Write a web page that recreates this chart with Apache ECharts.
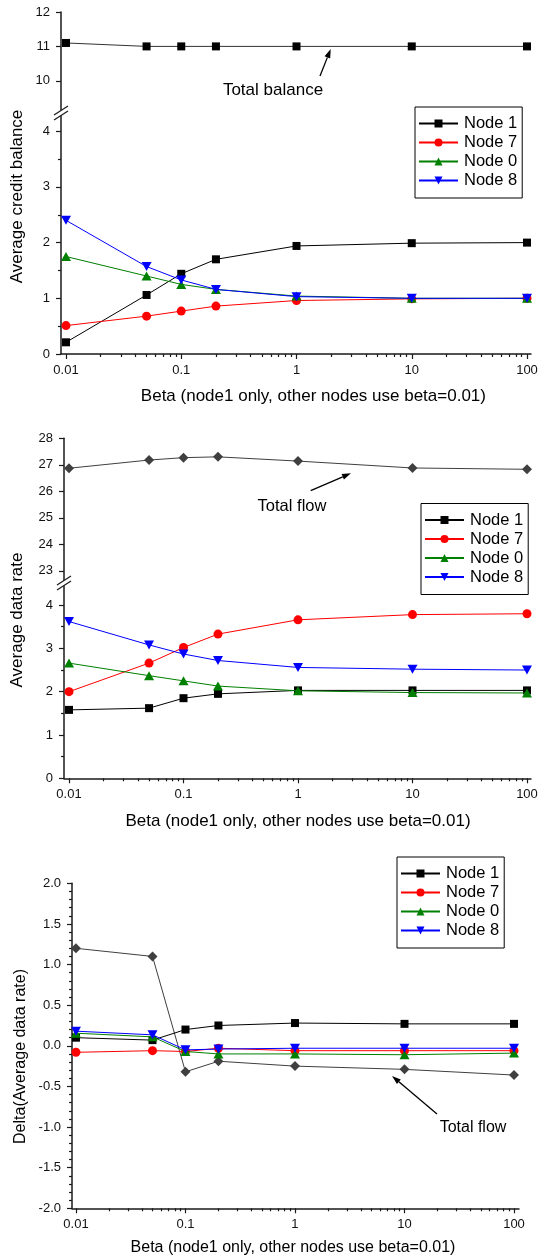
<!DOCTYPE html>
<html>
<head>
<meta charset="utf-8">
<script src="https://cdn.jsdelivr.net/npm/echarts@6/dist/echarts.min.js"></script>
<style>
  html, body { margin: 0; padding: 0; background: #fff; }
  #chart { width: 538px; height: 1259px; }
</style>
</head>
<body>
<div id="chart"></div>
<script>
// Beta of node 1 (the other nodes keep beta = 0.01)
const betaValues = [0.01, 0.05, 0.1, 0.2, 1, 10, 100];
const nodeNames = ['Node 1', 'Node 7', 'Node 0', 'Node 8'];

// Average credit balance
const totalBalance = [11.1, 11.0, 11.0, 11.0, 11.0, 11.0, 11.0];
const balanceNode1 = [0.21, 1.06, 1.44, 1.70, 1.94, 1.99, 2.00];
const balanceNode7 = [0.51, 0.68, 0.77, 0.86, 0.96, 0.99, 1.00];
const balanceNode0 = [1.75, 1.40, 1.25, 1.16, 1.04, 1.00, 1.00];
const balanceNode8 = [2.40, 1.57, 1.33, 1.16, 1.03, 1.00, 1.00];

// Average data rate
const totalFlow = [26.87, 27.18, 27.27, 27.30, 27.14, 26.88, 26.83];
const rateNode1 = [1.58, 1.62, 1.85, 1.95, 2.03, 2.03, 2.03];
const rateNode7 = [2.00, 2.66, 3.02, 3.33, 3.66, 3.78, 3.80];
const rateNode0 = [2.66, 2.37, 2.25, 2.13, 2.02, 1.98, 1.97];
const rateNode8 = [3.62, 3.08, 2.87, 2.72, 2.56, 2.52, 2.50];

// Delta(Average data rate)
const deltaTotal = [1.20, 1.10, -0.32, -0.19, -0.25, -0.29, -0.36];
const deltaNode1 = [0.10, 0.07, 0.20, 0.25, 0.28, 0.27, 0.27];
const deltaNode7 = [-0.08, -0.06, -0.07, -0.03, -0.06, -0.06, -0.06];
const deltaNode0 = [0.155, 0.11, -0.07, -0.10, -0.10, -0.11, -0.09];
const deltaNode8 = [0.18, 0.135, -0.05, -0.04, -0.03, -0.03, -0.03];

// Tick labels
const betaTicks = [0.01, 0.1, 1, 10, 100];
const balanceUpperTicks = [10, 11, 12];
const balanceLowerTicks = [0, 1, 2, 3, 4];
const rateUpperTicks = [23, 24, 25, 26, 27, 28];
const rateLowerTicks = [0, 1, 2, 3, 4];
const deltaTicks = [-2.0, -1.5, -1.0, -0.5, 0.0, 0.5, 1.0, 1.5, 2.0];

const xTitle = 'Beta (node1 only, other nodes use beta=0.01)';

// ---------------------------------------------------------------------------
const FONT = '"Liberation Sans", Arial, Helvetica, sans-serif';
const AXIS_COLOR = '#1a1a1a';
const COLORS = { n1: '#000000', n7: '#ff0000', n0: '#008000', n8: '#0000ff', total: '#3f3f3f' };

// minor ticks of the log axis: 2..9 of every decade
const betaMinorTicks = [];
[0.01, 0.1, 1, 10].forEach(d => { for (let k = 2; k <= 9; k++) betaMinorTicks.push(+(d * k).toPrecision(6)); });

// minor ticks of the delta axis: every 0.1 between the labelled ticks
const deltaMinorTicks = [];
for (let i = -20; i <= 20; i++) if (i % 5 !== 0) deltaMinorTicks.push(i / 10);

const tickLine = { color: AXIS_COLOR, width: 1.2 };

function fmtNum(v) { return String(+Number(v).toPrecision(6)); }

function xAxisPair(gridIndex, min, max, visible) {
  const base = {
    type: 'log', logBase: 10, gridIndex, min, max, position: 'bottom',
    splitLine: { show: false }, minorTick: { show: false }, minorSplitLine: { show: false }
  };
  return [
    Object.assign({}, base, {
      show: visible,
      axisLine: { show: true, onZero: false, lineStyle: { color: AXIS_COLOR, width: 1.5 } },
      axisTick: { show: true, length: 5, inside: false, customValues: betaTicks, lineStyle: tickLine },
      axisLabel: { show: true, customValues: betaTicks, margin: 10, fontSize: 13, fontFamily: FONT, color: '#111', formatter: fmtNum }
    }),
    Object.assign({}, base, {
      show: visible,
      axisLine: { show: false, onZero: false },
      axisTick: { show: true, length: 3, inside: false, customValues: betaMinorTicks, lineStyle: tickLine },
      axisLabel: { show: false }
    })
  ];
}

function yAxisMain(gridIndex, min, max, ticks, fmt) {
  return {
    type: 'value', gridIndex, min, max, position: 'left',
    splitLine: { show: false },
    axisLine: { show: true, onZero: false, lineStyle: { color: AXIS_COLOR, width: 1.5 } },
    axisTick: { show: true, length: 5, inside: false, customValues: ticks, lineStyle: tickLine },
    axisLabel: { show: true, customValues: ticks, margin: 11, fontSize: 13, fontFamily: FONT, color: '#111', formatter: fmt || fmtNum }
  };
}

function yAxisMinor(gridIndex, min, max, ticks) {
  return {
    type: 'value', gridIndex, min, max, position: 'left',
    splitLine: { show: false },
    axisLine: { show: false, onZero: false },
    axisTick: { show: true, length: 3, inside: false, customValues: ticks, lineStyle: tickLine },
    axisLabel: { show: false }
  };
}

const MARK = {
  n1: { symbol: 'rect', symbolSize: 8, symbolRotate: 0 },
  n7: { symbol: 'circle', symbolSize: 9, symbolRotate: 0 },
  n0: { symbol: 'triangle', symbolSize: [10, 9], symbolRotate: 0 },
  n8: { symbol: 'triangle', symbolSize: [10, 9], symbolRotate: 180 },
  diamond: { symbol: 'diamond', symbolSize: 10, symbolRotate: 0 },
  square: { symbol: 'rect', symbolSize: 8, symbolRotate: 0 }
};

function line(name, xi, yi, values, lineColor, markColor, mark, z) {
  return {
    type: 'line', name, xAxisIndex: xi, yAxisIndex: yi,
    data: betaValues.map((b, i) => [b, values[i]]),
    symbol: mark.symbol, symbolSize: mark.symbolSize, symbolRotate: mark.symbolRotate,
    showAllSymbol: true, clip: false,
    lineStyle: { color: lineColor, width: 1 },
    itemStyle: { color: markColor, borderWidth: 0 },
    emphasis: { disabled: true },
    z: z || 2
  };
}

function nodeSeries(xi, yi, v1, v7, v0, v8) {
  return [
    line('Node 1', xi, yi, v1, COLORS.n1, COLORS.n1, MARK.n1, 3),
    line('Node 7', xi, yi, v7, COLORS.n7, COLORS.n7, MARK.n7, 4),
    line('Node 0', xi, yi, v0, COLORS.n0, COLORS.n0, MARK.n0, 5),
    line('Node 8', xi, yi, v8, COLORS.n8, COLORS.n8, MARK.n8, 6)
  ];
}

function legendBox(left, top) {
  return {
    data: nodeNames, orient: 'vertical', left, top,
    backgroundColor: '#fff', borderColor: '#000', borderWidth: 1,
    padding: [7, 5, 8, 3], itemGap: 0, itemWidth: 39, itemHeight: 10,
    selectedMode: false,
    textStyle: { fontSize: 16.5, fontFamily: FONT, color: '#000', lineHeight: 19, padding: [0, 0, 0, 1] }
  };
}

// break symbol on a y axis: a white band with two slanted strokes
function breakMark(cx, cy) {
  const dx = 7, dy = 4.5, g = 2.5;
  const s = { stroke: AXIS_COLOR, lineWidth: 1.2 };
  return [
    { type: 'polygon', z: 100, silent: true,
      shape: { points: [[cx - dx, cy + dy - g], [cx + dx, cy - dy - g], [cx + dx, cy - dy + g], [cx - dx, cy + dy + g]] },
      style: { fill: '#fff' } },
    { type: 'line', z: 101, silent: true, shape: { x1: cx - dx, y1: cy + dy - g, x2: cx + dx, y2: cy - dy - g }, style: s },
    { type: 'line', z: 101, silent: true, shape: { x1: cx - dx, y1: cy + dy + g, x2: cx + dx, y2: cy - dy + g }, style: s }
  ];
}

function arrow(x1, y1, x2, y2) {
  const a = Math.atan2(y2 - y1, x2 - x1), L = 9, W = 3;
  const bx = x2 - L * Math.cos(a), by = y2 - L * Math.sin(a);
  const px = -Math.sin(a) * W, py = Math.cos(a) * W;
  return [
    { type: 'line', z: 50, silent: true, shape: { x1, y1, x2: bx, y2: by }, style: { stroke: '#000', lineWidth: 1.3 } },
    { type: 'polygon', z: 50, silent: true, shape: { points: [[x2, y2], [bx + px, by + py], [bx - px, by - py]] }, style: { fill: '#000' } }
  ];
}

function text(str, x, y, size, rotate) {
  return {
    type: 'text', x, y, rotation: rotate ? Math.PI / 2 : 0, z: 60, silent: true,
    style: { text: str, fontSize: size, fontFamily: FONT, fill: '#000', align: 'center', verticalAlign: 'middle' }
  };
}

// ---------------------------------------------------------------------------
const grids = [
  { left: 61, top: 12, width: 470, height: 101 },     // 0 credit balance, upper part
  { left: 61, top: 113, width: 470, height: 241 },    // 1 credit balance, lower part
  { left: 64, top: 438.3, width: 467, height: 144.7 },// 2 data rate, upper part
  { left: 64, top: 583, width: 467, height: 195.3 },  // 3 data rate, lower part
  { left: 72, top: 883.3, width: 447, height: 325 }   // 4 delta
].map(g => Object.assign({ containLabel: false, outerBoundsMode: 'none', show: false }, g));

const xAxes = [].concat(
  xAxisPair(0, 0.00905, 108.3, false),  // 0,1
  xAxisPair(1, 0.00905, 108.3, true),   // 2,3
  xAxisPair(2, 0.00904, 108.4, false),  // 4,5
  xAxisPair(3, 0.00904, 108.4, true),   // 6,7
  xAxisPair(4, 0.0092, 111.1, true)     // 8,9
);

const yAxes = [
  yAxisMain(0, 9.064, 12, balanceUpperTicks),   // 0
  yAxisMain(1, 0, 4.327, balanceLowerTicks),    // 1
  yAxisMinor(1, 0, 4.327, [0.5, 1.5, 2.5, 3.5]),// 2
  yAxisMain(2, 22.54, 28, rateUpperTicks),      // 3
  yAxisMain(3, 0, 4.51, rateLowerTicks),        // 4
  yAxisMinor(3, 0, 4.51, [0.5, 1.5, 2.5, 3.5]), // 5
  yAxisMain(4, -2, 2, deltaTicks, v => Number(v).toFixed(1)), // 6
  yAxisMinor(4, -2, 2, deltaMinorTicks)         // 7
];

const series = [].concat(
  [line('Total balance', 0, 0, totalBalance, '#333333', '#000000', MARK.square, 2)],
  nodeSeries(2, 1, balanceNode1, balanceNode7, balanceNode0, balanceNode8),
  [line('Total flow', 4, 3, totalFlow, COLORS.total, COLORS.total, MARK.diamond, 2)],
  nodeSeries(6, 4, rateNode1, rateNode7, rateNode0, rateNode8),
  [line('Total flow change', 8, 6, deltaTotal, COLORS.total, COLORS.total, MARK.diamond, 2)],
  nodeSeries(8, 6, deltaNode1, deltaNode7, deltaNode0, deltaNode8)
);

const graphics = [].concat(
  breakMark(61, 113),
  breakMark(64, 583),
  // axis titles
  [text(xTitle, 313.4, 396, 17), text('Average credit balance', 17, 196.5, 17, true)],
  [text(xTitle, 298, 821.7, 17), text('Average data rate', 17, 620, 17, true)],
  [text(xTitle, 293, 1248, 16), text('Delta(Average data rate)', 21, 1056.5, 16, true)],
  // annotations
  [text('Total balance', 273, 90, 17)], arrow(320, 76, 330.7, 49),
  [text('Total flow', 292, 506.7, 16.5)], arrow(310.7, 490.7, 351, 473.3),
  [text('Total flow', 473, 1128, 16)], arrow(437, 1114, 392, 1076)
);

const chart = echarts.init(document.getElementById('chart'), null, { renderer: 'canvas' });
chart.setOption({
  animation: false,
  backgroundColor: '#ffffff',
  textStyle: { fontFamily: FONT },
  grid: grids,
  xAxis: xAxes,
  yAxis: yAxes,
  legend: [legendBox(415, 107), legendBox(421, 503.5), legendBox(397, 857)],
  series,
  graphic: graphics
});
</script>
</body>
</html>
